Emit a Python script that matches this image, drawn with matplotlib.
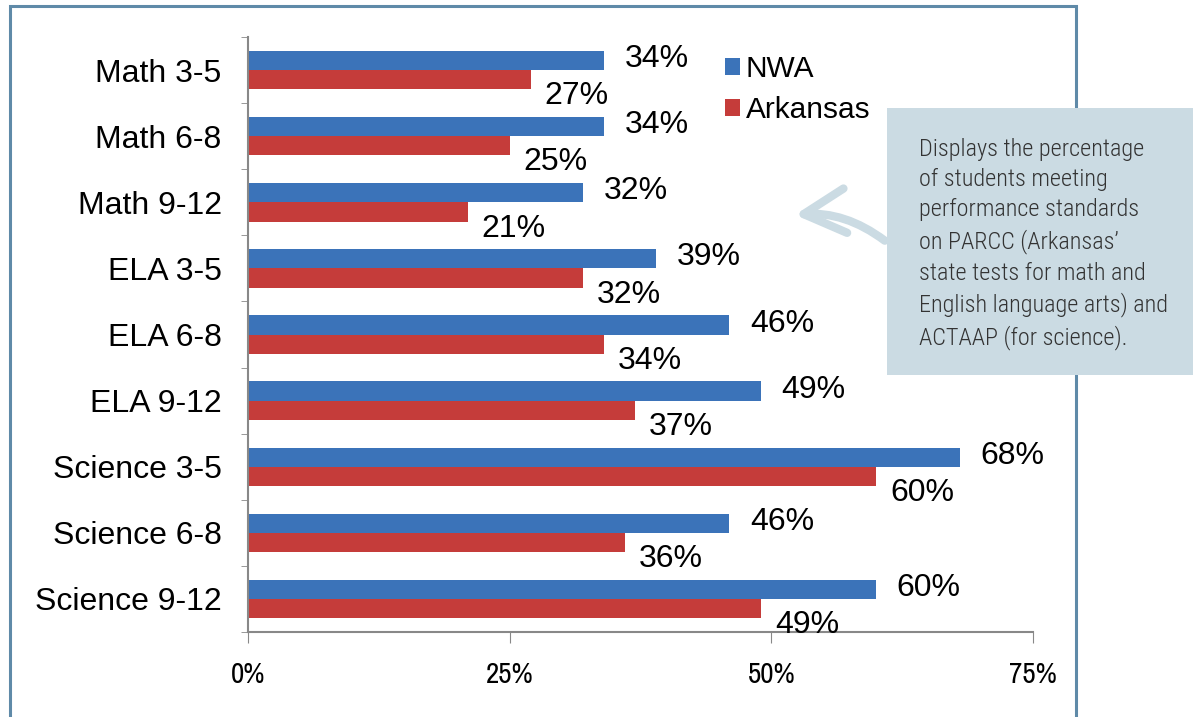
import numpy as np
import matplotlib
matplotlib.use("Agg")
import matplotlib.pyplot as plt
from matplotlib.patches import Rectangle, FancyArrowPatch

# -----------------------
# data
# -----------------------
CATEGORIES = ["Math 3-5", "Math 6-8", "Math 9-12", "ELA 3-5", "ELA 6-8",
              "ELA 9-12", "Science 3-5", "Science 6-8", "Science 9-12"]
NWA = [34, 34, 32, 39, 46, 49, 68, 46, 60]
ARKANSAS = [27, 25, 21, 32, 34, 37, 60, 36, 49]
SERIES_NAMES = ["NWA", "Arkansas"]
X_TICKS = [0, 25, 50, 75]
NOTE = ("Displays the percentage\nof students meeting\nperformance standards\n"
        "on PARCC (Arkansas’\nstate tests for math and\nEnglish language arts) and\n"
        "ACTAAP (for science).")

BLUE = "#3b73b9"
RED = "#c53c3a"
FRAME = "#5f8aa8"
NOTE_BG = "#cbdbe3"

plt.rcParams['font.family'] = ['Liberation Sans', 'DejaVu Sans']
NARROW = ['Archivo Narrow', 'PT Sans Narrow', 'Liberation Sans']
COND = ['Roboto Condensed', 'Liberation Sans']

fig = plt.figure(figsize=(11.93, 7.17), dpi=100)

# outer frame
fig.patches.append(Rectangle((0.0084, -0.05), 0.8936, 1.0416, transform=fig.transFigure,
                             fill=False, edgecolor=FRAME, linewidth=2.2, zorder=0))

ax = fig.add_axes([0.2079, 0.1185, 0.658, 0.8298])

y = np.arange(len(CATEGORIES))
h = 0.29
ax.barh(y - h / 2, NWA, height=h, color=BLUE, label=SERIES_NAMES[0])
ax.barh(y + h / 2, ARKANSAS, height=h, color=RED, label=SERIES_NAMES[1])

for i in range(len(CATEGORIES)):
    ax.annotate(f"{NWA[i]}%", (NWA[i], y[i] - h / 2), xytext=(15, 1),
                textcoords="offset points", ha="left", va="center", fontsize=23)
    ax.annotate(f"{ARKANSAS[i]}%", (ARKANSAS[i], y[i] + h / 2), xytext=(10, -12),
                textcoords="offset points", ha="left", va="center", fontsize=23)

ax.set_xlim(0, 75)
ax.set_ylim(len(CATEGORIES) - 0.5, -0.5)
ax.set_yticks(y)
ax.set_yticklabels(CATEGORIES, fontsize=23)
ax.set_yticks(np.arange(len(CATEGORIES) + 1) - 0.5, minor=True)
ax.tick_params(axis="y", which="major", length=0, pad=19)
ax.tick_params(axis="y", which="minor", length=5, color="#888888", direction="out")
ax.set_xticks(X_TICKS)
ax.set_xticklabels([f"{t}%" for t in X_TICKS], fontsize=21, family=NARROW)
ax.tick_params(axis="x", length=8, color="#888888", pad=13)
for s in ["top", "right"]:
    ax.spines[s].set_visible(False)
for s in ["left", "bottom"]:
    ax.spines[s].set_color("#888888")
    ax.spines[s].set_linewidth(1.5)

leg = ax.legend(loc="upper left", bbox_to_anchor=(0.592, 0.99), frameon=False,
                fontsize=21.5, handlelength=0.5, handleheight=0.5, handletextpad=0.2,
                labelspacing=0.45, borderaxespad=0)

# note box with arrow
fig.patches.append(Rectangle((0.7435, 0.477), 0.2565, 0.3724, transform=fig.transFigure,
                             facecolor=NOTE_BG, edgecolor="none", zorder=1))
arrow = FancyArrowPatch((0.7435, 0.662), (0.664, 0.700), transform=fig.transFigure,
                        arrowstyle="->,head_length=30,head_width=16",
                        connectionstyle="arc3,rad=0.2", color=NOTE_BG,
                        linewidth=6, zorder=0.5)
fig.patches.append(arrow)
fig.text(0.770, 0.808, NOTE, ha="left", va="top", fontsize=17.5, linespacing=1.41,
         family=COND, fontweight="light", color="#333333", zorder=2)

fig.savefig("out.png", dpi=100)
